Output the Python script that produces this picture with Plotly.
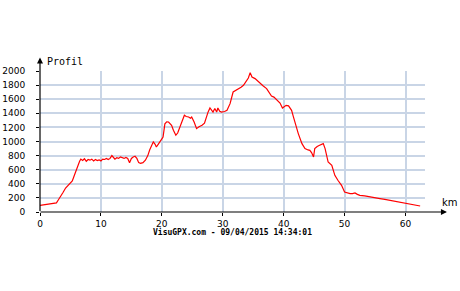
import plotly.graph_objects as go

distance_km = [0.0, 0.5, 1.0, 1.5, 2.0, 2.4, 2.7, 3.0, 3.4, 3.8, 4.2, 4.6, 5.0, 5.3, 5.6, 5.9, 6.2, 6.5, 6.7,
               7.0, 7.3, 7.6, 7.9, 8.2, 8.5, 8.8, 9.1, 9.4, 9.7, 10.0, 10.3, 10.6, 10.9, 11.2, 11.5, 11.8,
               12.0, 12.3, 12.6, 12.9, 13.2, 13.5, 13.8, 14.1, 14.4, 14.7, 15.0, 15.3, 15.6, 15.9, 16.2,
               16.5, 16.9, 17.3, 17.7, 18.0, 18.4, 18.6, 18.9, 19.1, 19.4, 19.7, 20.0, 20.2, 20.5, 20.8,
               21.1, 21.4, 21.6, 21.9, 22.3, 22.6, 23.0, 23.3, 23.7, 24.0, 24.4, 24.7, 24.9, 25.3, 25.7,
               26.1, 26.6, 27.0, 27.4, 27.6, 27.9, 28.2, 28.4, 28.7, 29.0, 29.2, 29.5, 29.8, 30.3, 30.7,
               31.2, 31.7, 32.1, 32.6, 33.0, 33.4, 33.9, 34.2, 34.5, 34.8, 35.3, 35.7, 36.1, 36.6, 37.2,
               37.6, 38.0, 38.4, 38.7, 39.1, 39.4, 39.8, 40.1, 40.4, 40.8, 41.3, 41.6, 41.9, 42.4, 43.0,
               43.5, 44.0, 44.3, 44.6, 44.9, 45.1, 45.5, 45.9, 46.5, 46.8, 47.3, 47.9, 48.1, 48.4, 48.9,
               49.2, 49.5, 50.0, 50.5, 50.9, 51.3, 51.7, 52.1, 52.5, 53.3, 54.1, 55.0, 55.8, 56.6, 57.4,
               58.2, 59.1, 59.9, 60.7, 61.5, 62.4]
elevation_m = [95, 100, 105, 108, 115, 120, 130, 170, 220, 280, 340, 380, 410, 440, 510, 590, 660, 720, 750,
               730, 755, 720, 745, 735, 750, 725, 745, 730, 740, 725, 750, 745, 760, 745, 760, 800,
               780, 750, 770, 760, 780, 770, 760, 775, 760, 700, 760, 780, 790, 760, 700,
               690, 700, 735, 800, 880, 970, 995, 960, 922, 960, 995, 1030, 1064, 1250, 1280,
               1277, 1255, 1230, 1160, 1090, 1120, 1206, 1290, 1372, 1355, 1348, 1330, 1348, 1277, 1183,
               1210, 1230, 1260, 1372, 1420, 1475, 1440, 1418, 1467, 1418, 1475, 1430, 1418, 1425, 1442,
               1537, 1702, 1720, 1750, 1770, 1797, 1868, 1900, 1977, 1915, 1892, 1860, 1821, 1790, 1750,
               1700, 1645, 1630, 1608, 1580, 1545, 1475, 1490, 1513, 1505, 1442, 1350, 1254, 1112, 970,
               899, 880, 875, 840, 780, 899, 930, 946, 970, 899, 709, 662, 600, 520, 450,
               420, 379, 284, 265, 261, 262, 270, 250, 237, 228, 213, 202, 190, 178, 166,
               154, 142, 125, 109, 97, 85]

x_ticks = [0, 10, 20, 30, 40, 50, 60]
y_ticks = [0, 200, 400, 600, 800, 1000, 1200, 1400, 1600, 1800, 2000]

fig = go.Figure()
fig.add_trace(go.Scatter(x=distance_km, y=elevation_m, mode="lines",
                         line=dict(color="#ff0000", width=1.2), hoverinfo="skip"))

grid = "#c9d5e6"
tickfont = dict(family="DejaVu Sans", size=9, color="#000000")
fig.update_layout(
    width=460, height=291,
    margin=dict(l=40, r=35, t=71, b=79, autoexpand=False),
    paper_bgcolor="white", plot_bgcolor="white",
    showlegend=False,
    xaxis=dict(range=[0, 63.2], tickvals=x_ticks, showgrid=True, gridcolor=grid, gridwidth=1.5,
               zeroline=False, showline=False, ticks="outside", ticklen=3, tickcolor="black",
               tickfont=tickfont, automargin=False, fixedrange=True),
    yaxis=dict(range=[0, 2000], tickvals=y_ticks, showgrid=True, gridcolor=grid, gridwidth=1.5,
               zeroline=False, showline=False, ticks="outside", ticklen=3, tickcolor="black",
               tickfont=tickfont, ticklabelstandoff=9, automargin=False, fixedrange=True),
)

# axis lines with arrows
fig.add_annotation(x=1.057, y=0, xref="paper", yref="paper", ax=-408, ay=0, axref="pixel", ayref="pixel",
                   text="", showarrow=True, arrowhead=2, arrowsize=1, arrowwidth=1.2, arrowcolor="black", standoff=0)
fig.add_annotation(x=0, y=1.095, xref="paper", yref="paper", ax=0, ay=155, axref="pixel", ayref="pixel",
                   text="", showarrow=True, arrowhead=2, arrowsize=1, arrowwidth=1.2, arrowcolor="black", standoff=0)

fig.add_annotation(x=0.013, y=1.065, xref="paper", yref="paper", text="Profil", showarrow=False,
                   xanchor="left", yanchor="middle",
                   font=dict(family="DejaVu Sans Mono", size=10, color="black"))
fig.add_annotation(x=1.04, y=0.07, xref="paper", yref="paper", text="km", showarrow=False,
                   xanchor="left", yanchor="middle",
                   font=dict(family="DejaVu Sans", size=10, color="black"))
fig.add_annotation(x=0.5, y=-0.145, xref="paper", yref="paper",
                   text="<b>VisuGPX.com - 09/04/2015 14:34:01</b>", showarrow=False,
                   xanchor="center", yanchor="middle",
                   font=dict(family="DejaVu Sans Mono", size=8, color="black"))

fig.write_html("out.html")
